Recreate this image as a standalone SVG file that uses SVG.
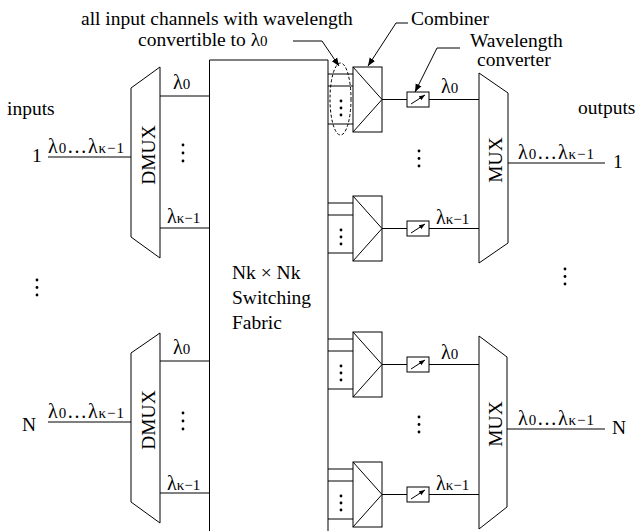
<svg xmlns="http://www.w3.org/2000/svg" width="643" height="531" viewBox="0 0 643 531">
<style>
.s{fill:none;stroke:#000;stroke-width:1}
.t{font-family:"Liberation Serif","Times New Roman",serif;font-size:19.5px;fill:#000}
.l{font-family:"Liberation Serif","Times New Roman",serif;font-size:20px;fill:#000}
.sub{font-size:15px}
.d{fill:#000}
</style>
<defs>
<marker id="ah" viewBox="0 0 10 10" refX="10" refY="5" markerWidth="8" markerHeight="8" markerUnits="userSpaceOnUse" orient="auto">
<path d="M0,1 L10,5 L0,9 Z" fill="#000"/>
</marker>
<marker id="ah2" viewBox="0 0 10 10" refX="10" refY="5" markerWidth="6" markerHeight="6" markerUnits="userSpaceOnUse" orient="auto">
<path d="M0,1 L10,5 L0,9 Z" fill="#000"/>
</marker>
<g id="combiner">
<rect class="s" x="353" y="0" width="29" height="65"/>
<path class="s" d="M353,0 L382,32.5 L353,65"/>
<path class="s" d="M328,7 H353 M328,19 H353 M328,57 H353"/>
<circle class="d" cx="341" cy="34" r="1.4"/>
<circle class="d" cx="341" cy="41" r="1.4"/>
<circle class="d" cx="341" cy="48" r="1.4"/>
</g>
<g id="converter">
<rect class="s" x="407" y="25" width="22" height="15"/>
<line class="s" x1="411" y1="37" x2="425" y2="28" marker-end="url(#ah2)"/>
</g>
</defs>

<g id="fabric">
<path class="s" d="M209.5,540 V60 H328 V540"/>
<text class="t" x="232" y="279">Nk × Nk</text>
<text class="t" x="232" y="304">Switching</text>
<text class="t" x="232" y="329">Fabric</text>
</g>

<g id="dmux1">
<path class="s" d="M131,88 L160,67 L160,258 L131,237 Z"/>
<text class="t" transform="translate(155,155) rotate(-90)" text-anchor="middle">DMUX</text>
</g>
<g id="dmux2">
<path class="s" d="M131,353 L160,333 L160,523 L131,502 Z"/>
<text class="t" transform="translate(155,420) rotate(-90)" text-anchor="middle">DMUX</text>
</g>

<g id="mux1">
<path class="s" d="M479,73 L508,93 L508,243 L479,263 Z"/>
<text class="t" transform="translate(502,160) rotate(-90)" text-anchor="middle">MUX</text>
</g>
<g id="mux2">
<path class="s" d="M479,336 L507,357 L507,507 L479,529 Z"/>
<text class="t" transform="translate(502,424) rotate(-90)" text-anchor="middle">MUX</text>
</g>

<g id="comb1"><use href="#combiner" y="67"/></g>
<g id="comb2"><use href="#combiner" y="196"/></g>
<g id="comb3"><use href="#combiner" y="332"/></g>
<g id="comb4"><use href="#combiner" y="462"/></g>

<g id="conv1"><use href="#converter" y="67"/></g>
<g id="conv2"><use href="#converter" y="196"/></g>
<g id="conv3"><use href="#converter" y="332"/></g>
<g id="conv4"><use href="#converter" y="462"/></g>

<g id="connectors">
<path class="s" d="M48,157 H131 M48,422 H131"/>
<path class="s" d="M160,96 H209.5 M160,228 H209.5 M160,361 H209.5 M160,493 H209.5"/>
<path class="s" d="M382,99.5 H407 M429,99.5 H479 M382,228.5 H407 M429,228.5 H479 M382,364.5 H407 M429,364.5 H479 M382,494.5 H407 M429,494.5 H479"/>
<path class="s" d="M508,163 H605 M507,429 H605"/>
<ellipse class="s" cx="340.5" cy="99" rx="10.5" ry="36" stroke-dasharray="3,2"/>
<path class="s" d="M293,41 H322 L339,66" marker-end="url(#ah)"/>
<path class="s" d="M408,23 H396 L368,66" marker-end="url(#ah)"/>
<path class="s" d="M460,48 H437 L415,92" marker-end="url(#ah)"/>
</g>

<g id="labels">
<text class="t" x="81" y="25">all input channels with wavelength</text>
<text class="t" x="138" y="46">convertible to λ<tspan class="sub">0</tspan></text>
<text class="t" x="411" y="25">Combiner</text>
<text class="t" x="470" y="47">Wavelength</text>
<text class="t" x="477" y="66">converter</text>
<text class="t" x="7" y="115">inputs</text>
<text class="t" x="578" y="114">outputs</text>
<text class="t" x="32" y="162">1</text>
<text class="t" x="22" y="431">N</text>
<text class="t" x="613" y="168">1</text>
<text class="t" x="612" y="434">N</text>

<text class="l" x="48" y="153" textLength="76" lengthAdjust="spacing">λ<tspan class="sub">0</tspan>…λ<tspan class="sub">κ−1</tspan></text>
<text class="l" x="48" y="418" textLength="76" lengthAdjust="spacing">λ<tspan class="sub">0</tspan>…λ<tspan class="sub">κ−1</tspan></text>
<text class="l" x="518" y="159" textLength="76" lengthAdjust="spacing">λ<tspan class="sub">0</tspan>…λ<tspan class="sub">κ−1</tspan></text>
<text class="l" x="518" y="425" textLength="76" lengthAdjust="spacing">λ<tspan class="sub">0</tspan>…λ<tspan class="sub">κ−1</tspan></text>

<text class="l" x="173" y="89">λ<tspan class="sub">0</tspan></text>
<text class="l" x="167" y="223">λ<tspan class="sub">κ−1</tspan></text>
<text class="l" x="173" y="354">λ<tspan class="sub">0</tspan></text>
<text class="l" x="167" y="490">λ<tspan class="sub">κ−1</tspan></text>

<text class="l" x="441" y="93">λ<tspan class="sub">0</tspan></text>
<text class="l" x="436" y="224">λ<tspan class="sub">κ−1</tspan></text>
<text class="l" x="441" y="359">λ<tspan class="sub">0</tspan></text>
<text class="l" x="436" y="490">λ<tspan class="sub">κ−1</tspan></text>
</g>

<g id="dots">
<circle class="d" cx="183" cy="145" r="1.4"/><circle class="d" cx="183" cy="153" r="1.4"/><circle class="d" cx="183" cy="161" r="1.4"/>
<circle class="d" cx="183" cy="413" r="1.4"/><circle class="d" cx="183" cy="421" r="1.4"/><circle class="d" cx="183" cy="429" r="1.4"/>
<circle class="d" cx="419" cy="151" r="1.4"/><circle class="d" cx="419" cy="158.5" r="1.4"/><circle class="d" cx="419" cy="166" r="1.4"/>
<circle class="d" cx="419" cy="417" r="1.4"/><circle class="d" cx="419" cy="424.5" r="1.4"/><circle class="d" cx="419" cy="432" r="1.4"/>
<circle class="d" cx="37" cy="280" r="1.4"/><circle class="d" cx="37" cy="287.5" r="1.4"/><circle class="d" cx="37" cy="295" r="1.4"/>
<circle class="d" cx="565" cy="269" r="1.4"/><circle class="d" cx="565" cy="276.5" r="1.4"/><circle class="d" cx="565" cy="284" r="1.4"/>
</g>
</svg>
